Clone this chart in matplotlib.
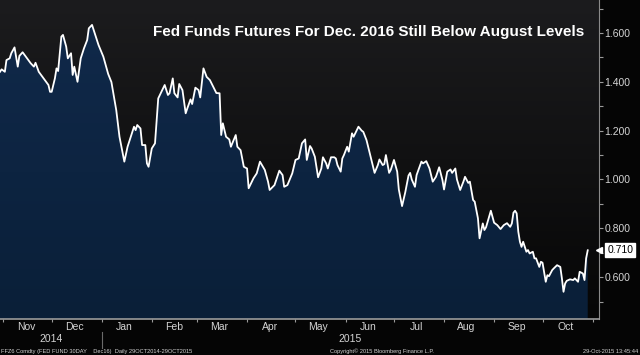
import matplotlib
matplotlib.use("Agg")
import matplotlib.pyplot as plt
import matplotlib.dates as mdates
import numpy as np
import pandas as pd
from matplotlib.colors import LinearSegmentedColormap
from matplotlib.patches import Polygon
from matplotlib.ticker import MultipleLocator, FormatStrFormatter

# FFZ6 (Fed funds 30-day futures, Dec16) implied rate
dates = [
    "2014-10-30", "2014-10-31", "2014-11-02", "2014-11-03", "2014-11-05", "2014-11-06",
    "2014-11-08", "2014-11-10", "2014-11-11", "2014-11-13", "2014-11-15", "2014-11-18",
    "2014-11-20", "2014-11-21", "2014-11-23", "2014-11-26", "2014-11-29", "2014-11-30",
    "2014-12-01", "2014-12-03", "2014-12-04", "2014-12-05", "2014-12-07", "2014-12-08",
    "2014-12-10", "2014-12-11", "2014-12-13", "2014-12-14", "2014-12-15", "2014-12-17",
    "2014-12-19", "2014-12-21", "2014-12-23", "2014-12-24", "2014-12-26", "2014-12-28",
    "2014-12-30", "2015-01-02", "2015-01-05", "2015-01-07", "2015-01-10", "2015-01-12",
    "2015-01-15", "2015-01-17", "2015-01-19", "2015-01-21", "2015-01-22", "2015-01-23",
    "2015-01-25", "2015-01-26", "2015-01-28", "2015-01-29", "2015-01-30", "2015-02-01",
    "2015-02-03", "2015-02-05", "2015-02-09", "2015-02-11", "2015-02-12", "2015-02-14",
    "2015-02-15", "2015-02-17", "2015-02-18", "2015-02-20", "2015-02-22", "2015-02-23",
    "2015-02-25", "2015-02-26", "2015-02-28", "2015-03-02", "2015-03-03", "2015-03-05",
    "2015-03-07", "2015-03-09", "2015-03-13", "2015-03-15", "2015-03-16", "2015-03-17",
    "2015-03-19", "2015-03-21", "2015-03-22", "2015-03-25", "2015-03-26", "2015-03-28",
    "2015-03-30", "2015-04-01", "2015-04-02", "2015-04-05", "2015-04-07", "2015-04-09",
    "2015-04-12", "2015-04-14", "2015-04-15", "2015-04-18", "2015-04-21", "2015-04-23",
    "2015-04-24", "2015-04-26", "2015-04-29", "2015-05-01", "2015-05-03", "2015-05-05",
    "2015-05-07", "2015-05-08", "2015-05-10", "2015-05-11", "2015-05-13", "2015-05-15",
    "2015-05-17", "2015-05-18", "2015-05-20", "2015-05-21", "2015-05-23", "2015-05-25",
    "2015-05-26", "2015-05-27", "2015-05-29", "2015-05-30", "2015-05-31", "2015-06-02",
    "2015-06-03", "2015-06-05", "2015-06-06", "2015-06-08", "2015-06-09", "2015-06-11",
    "2015-06-12", "2015-06-14", "2015-06-16", "2015-06-19", "2015-06-21", "2015-06-22",
    "2015-06-24", "2015-06-25", "2015-06-26", "2015-06-28", "2015-06-29", "2015-07-01",
    "2015-07-03", "2015-07-04", "2015-07-06", "2015-07-08", "2015-07-10", "2015-07-11",
    "2015-07-12", "2015-07-14", "2015-07-15", "2015-07-18", "2015-07-19", "2015-07-21",
    "2015-07-23", "2015-07-25", "2015-07-27", "2015-07-29", "2015-07-31", "2015-08-01",
    "2015-08-03", "2015-08-05", "2015-08-06", "2015-08-08", "2015-08-09", "2015-08-11",
    "2015-08-13", "2015-08-14", "2015-08-16", "2015-08-17", "2015-08-19", "2015-08-20",
    "2015-08-22", "2015-08-23", "2015-08-25", "2015-08-26", "2015-08-27", "2015-08-29",
    "2015-08-30", "2015-09-01", "2015-09-03", "2015-09-05", "2015-09-07", "2015-09-09",
    "2015-09-11", "2015-09-12", "2015-09-13", "2015-09-14", "2015-09-15", "2015-09-16",
    "2015-09-17", "2015-09-18", "2015-09-19", "2015-09-21", "2015-09-22", "2015-09-23",
    "2015-09-25", "2015-09-26", "2015-09-27", "2015-09-29", "2015-09-30", "2015-10-01",
    "2015-10-03", "2015-10-04", "2015-10-05", "2015-10-07", "2015-10-08", "2015-10-10",
    "2015-10-12", "2015-10-13", "2015-10-14", "2015-10-15", "2015-10-16", "2015-10-18",
    "2015-10-20", "2015-10-21", "2015-10-23", "2015-10-24", "2015-10-26", "2015-10-27",
    "2015-10-28", "2015-10-29",
]
values = [
    1.441, 1.451, 1.441, 1.489, 1.496, 1.517, 1.541, 1.462, 1.506, 1.521, 1.503, 1.476,
    1.462, 1.478, 1.441, 1.414, 1.387, 1.359, 1.359, 1.414, 1.455, 1.444, 1.585, 1.592,
    1.544, 1.496, 1.517, 1.428, 1.462, 1.400, 1.496, 1.537, 1.571, 1.619, 1.633, 1.592,
    1.551, 1.503, 1.432, 1.399, 1.284, 1.175, 1.073, 1.134, 1.175, 1.216, 1.202, 1.223,
    1.209, 1.141, 1.141, 1.066, 1.052, 1.127, 1.148, 1.332, 1.387, 1.346, 1.353, 1.414,
    1.353, 1.336, 1.391, 1.366, 1.271, 1.291, 1.328, 1.309, 1.376, 1.366, 1.336, 1.455,
    1.420, 1.407, 1.354, 1.353, 1.182, 1.230, 1.175, 1.164, 1.134, 1.182, 1.134, 1.120,
    1.052, 1.045, 0.964, 1.005, 1.025, 1.073, 1.039, 0.991, 0.957, 0.977, 1.036, 1.018,
    0.970, 0.977, 1.025, 1.080, 1.086, 1.148, 1.164, 1.080, 1.137, 1.127, 1.093, 1.009,
    1.045, 1.091, 1.066, 1.045, 1.091, 1.091, 1.086, 1.059, 1.032, 1.086, 1.100, 1.134,
    1.114, 1.189, 1.175, 1.202, 1.216, 1.200, 1.195, 1.161, 1.107, 1.027, 1.059, 1.082,
    1.059, 1.063, 1.100, 1.027, 1.039, 1.080, 1.032, 0.959, 0.891, 0.948, 1.016, 1.027,
    1.000, 0.970, 1.018, 1.073, 1.066, 1.075, 1.045, 0.991, 1.011, 1.050, 0.998, 0.959,
    1.032, 1.041, 1.027, 1.045, 1.000, 0.957, 0.991, 1.011, 0.986, 0.991, 0.916, 0.909,
    0.841, 0.759, 0.820, 0.793, 0.804, 0.850, 0.872, 0.823, 0.813, 0.797, 0.813, 0.821,
    0.806, 0.820, 0.864, 0.872, 0.861, 0.786, 0.745, 0.724, 0.745, 0.704, 0.711, 0.697,
    0.704, 0.677, 0.677, 0.642, 0.663, 0.659, 0.581, 0.608, 0.604, 0.629, 0.636, 0.649,
    0.642, 0.595, 0.540, 0.574, 0.585, 0.591, 0.588, 0.595, 0.581, 0.622, 0.615, 0.588,
    0.677, 0.710,
]
yticks = [0.6, 0.8, 1.0, 1.2, 1.4, 1.6]
title = "Fed Funds Futures For Dec. 2016 Still Below August Levels"

BG = "#050505"
TXT = "#d4d4d4"
FONT = "Liberation Sans"

x = mdates.date2num(pd.to_datetime(dates))
x0 = x[0]
x1 = mdates.date2num(pd.Timestamp("2015-11-05"))
y0, y1 = 0.428, 1.735

fig = plt.figure(figsize=(6.4, 3.55), dpi=100)
fig.patch.set_facecolor(BG)
ax = fig.add_axes([0, 0.101, 0.936, 0.899])
ax.set_xlim(x0, x1)
ax.set_ylim(y0, y1)
ax.set_facecolor(BG)

# plot background: dark grey at the top fading to black
bg_cmap = LinearSegmentedColormap.from_list("bg", ["#060606", "#1c1c1e"])
grad = np.linspace(0, 1, 256).reshape(-1, 1)
ax.imshow(grad, extent=[x0, x1, y0, y1], origin="lower", aspect="auto",
          cmap=bg_cmap, zorder=0)

# navy area under the line
fill_cmap = LinearSegmentedColormap.from_list("fill", ["#0a1f38", "#10294a"])
verts = [(x[0], y0)] + list(zip(x, values)) + [(x[-1], y0)]
poly = Polygon(verts, closed=True, facecolor="none", edgecolor="none")
ax.add_patch(poly)
im = ax.imshow(grad, extent=[x0, x1, y0, max(values)], origin="lower",
               aspect="auto", cmap=fill_cmap, zorder=1)
im.set_clip_path(poly)
ax.plot(x, values, color="white", lw=1.3, zorder=3)

# axes styling
for s in ("left", "top"):
    ax.spines[s].set_visible(False)
ax.spines["right"].set_color("#8a8a8a")
ax.spines["bottom"].set_color("#9a9a9a")
ax.spines["bottom"].set_linewidth(1.2)

ax.yaxis.tick_right()
ax.set_yticks(yticks)
ax.yaxis.set_major_formatter(FormatStrFormatter("%.3f"))
ax.yaxis.set_minor_locator(MultipleLocator(0.1))
ax.tick_params(axis="y", which="both", colors="#9a9a9a", labelcolor=TXT,
               labelsize=7.5, length=3, width=0.8, pad=1)
for lab in ax.get_yticklabels():
    lab.set_fontfamily(FONT)

ax.xaxis.set_major_locator(mdates.MonthLocator(bymonthday=15))
ax.xaxis.set_major_formatter(mdates.DateFormatter("%b"))
ax.xaxis.set_minor_locator(mdates.MonthLocator())
ax.tick_params(axis="x", which="major", length=0, labelcolor=TXT,
               labelsize=7.5, pad=2)
ax.tick_params(axis="x", which="minor", length=2.5, color="#9a9a9a", width=0.8)
for lab in ax.get_xticklabels():
    lab.set_fontfamily(FONT)

# year row
jan1 = mdates.date2num(pd.Timestamp("2015-01-01"))
trans = ax.get_xaxis_transform()
ax.text((x0 + jan1) / 2, -0.062, "2014", transform=trans, ha="center", va="center",
        color=TXT, fontsize=7.5, family=FONT)
ax.text((jan1 + x1) / 2, -0.062, "2015", transform=trans, ha="center", va="center",
        color=TXT, fontsize=7.5, family=FONT)
ax.plot([jan1, jan1], [-0.04, -0.09], transform=trans, color="#6a6a6a",
        lw=0.8, clip_on=False)

# last value tag
ax.annotate(f"{values[-1]:.3f}", xy=(1.0, values[-1]), xycoords=("axes fraction", "data"),
            xytext=(6, 0), textcoords="offset points", ha="left", va="center",
            color="black", fontsize=7.5, family=FONT,
            bbox=dict(boxstyle="square,pad=0.2", fc="white", ec="white"))
ax.plot([1.0], [values[-1]], marker="<", ms=4, color="white",
        transform=ax.get_yaxis_transform(), clip_on=False, zorder=5)

ax.text(0.975, 0.90, title, transform=ax.transAxes, ha="right", va="center",
        color="white", fontsize=11, fontweight="bold", family=FONT, zorder=6)

# footer
fig.text(0.002, 0.004, "FFZ6 Comdty (FED FUND 30DAY    Dec16)  Daily 29OCT2014-29OCT2015",
         color=TXT, fontsize=4.1, family=FONT, va="bottom")
fig.text(0.516, 0.004, "Copyright\u00a9 2015 Bloomberg Finance L.P.",
         color=TXT, fontsize=4.1, family=FONT, va="bottom")
fig.text(0.997, 0.004, "29-Oct-2015 13:45:44", color=TXT, fontsize=4.1,
         family=FONT, va="bottom", ha="right")

fig.savefig("out.png", dpi=100, facecolor=BG)
